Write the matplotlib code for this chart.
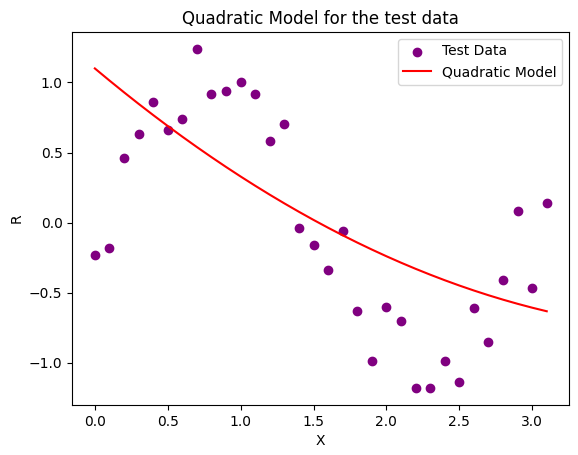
import numpy as np
import matplotlib
matplotlib.use("Agg")
import matplotlib.pyplot as plt

x = [round(0.1 * i, 1) for i in range(32)]
r = [-0.23, -0.18, 0.46, 0.63, 0.86, 0.66, 0.74, 1.24, 0.92, 0.94, 1.00, 0.92,
     0.58, 0.70, -0.04, -0.16, -0.34, -0.06, -0.63, -0.99, -0.60, -0.70, -1.18,
     -1.18, -0.99, -1.14, -0.61, -0.85, -0.41, 0.08, -0.47, 0.14]
coef = [0.101, -0.872, 1.10]  # c, b, a

fig, ax = plt.subplots(figsize=(5.78, 4.55), dpi=100)
ax.scatter(x, r, color="purple", label="Test Data")
xs = np.array(x)
ax.plot(xs, np.polyval(coef, xs), color="red", label="Quadratic Model")
ax.set_title("Quadratic Model for the test data")
ax.set_xlabel("X")
ax.set_ylabel("R")
ax.legend()
fig.subplots_adjust(left=0.125, right=0.985, top=0.93, bottom=0.11)
fig.savefig("out.png")
